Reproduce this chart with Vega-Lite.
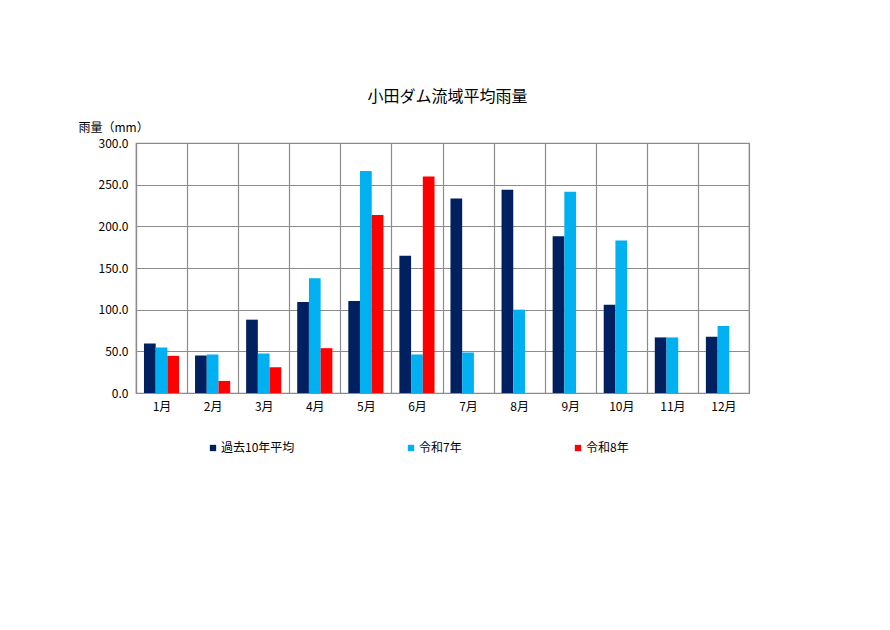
{
  "$schema": "https://vega.github.io/schema/vega-lite/v6.json",
  "width": 613,
  "height": 250,
  "autosize": "none",
  "padding": {"left": 136, "top": 143, "right": 141, "bottom": 237},
  "background": "white",
  "title": {
    "text": "小田ダム流域平均雨量",
    "fontSize": 16,
    "fontWeight": "normal",
    "font": "Noto Sans CJK JP",
    "color": "black",
    "anchor": "middle",
    "frame": "group",
    "offset": 16,
    "dx": 5
  },
  "config": {
    "view": {"stroke": "#8c8c8c", "strokeWidth": 1.2},
    "font": "Noto Sans CJK JP"
  },
  "data": {
    "values": [
      {"month": "1月", "series": "過去10年平均", "value": 59.4},
      {"month": "1月", "series": "令和7年", "value": 54.6},
      {"month": "1月", "series": "令和8年", "value": 44.6},
      {"month": "2月", "series": "過去10年平均", "value": 45.0},
      {"month": "2月", "series": "令和7年", "value": 46.2},
      {"month": "2月", "series": "令和8年", "value": 14.5},
      {"month": "3月", "series": "過去10年平均", "value": 88.0},
      {"month": "3月", "series": "令和7年", "value": 47.4},
      {"month": "3月", "series": "令和8年", "value": 30.9},
      {"month": "4月", "series": "過去10年平均", "value": 109.2},
      {"month": "4月", "series": "令和7年", "value": 137.8},
      {"month": "4月", "series": "令和8年", "value": 53.8},
      {"month": "5月", "series": "過去10年平均", "value": 110.4},
      {"month": "5月", "series": "令和7年", "value": 266.3},
      {"month": "5月", "series": "令和8年", "value": 213.7},
      {"month": "6月", "series": "過去10年平均", "value": 164.7},
      {"month": "6月", "series": "令和7年", "value": 46.2},
      {"month": "6月", "series": "令和8年", "value": 259.8},
      {"month": "7月", "series": "過去10年平均", "value": 233.3},
      {"month": "7月", "series": "令和7年", "value": 48.6},
      {"month": "8月", "series": "過去10年平均", "value": 243.8},
      {"month": "8月", "series": "令和7年", "value": 100.0},
      {"month": "9月", "series": "過去10年平均", "value": 188.0},
      {"month": "9月", "series": "令和7年", "value": 241.4},
      {"month": "10月", "series": "過去10年平均", "value": 106.0},
      {"month": "10月", "series": "令和7年", "value": 183.1},
      {"month": "11月", "series": "過去10年平均", "value": 66.7},
      {"month": "11月", "series": "令和7年", "value": 66.7},
      {"month": "12月", "series": "過去10年平均", "value": 67.5},
      {"month": "12月", "series": "令和7年", "value": 80.3}
    ]
  },
  "mark": {"type": "bar"},
  "encoding": {
    "x": {
      "field": "month",
      "type": "nominal",
      "sort": null,
      "scale": {"paddingInner": 0, "paddingOuter": 0},
      "axis": {
        "title": null,
        "labelAngle": 0,
        "labelFontSize": 12,
        "labelColor": "black",
        "labelPadding": 8,
        "ticks": false,
        "tickBand": "extent",
        "grid": true,
        "gridColor": "#8c8c8c",
        "gridWidth": 1.2,
        "domainColor": "#8c8c8c",
        "domainWidth": 1.2
      }
    },
    "xOffset": {
      "field": "series",
      "type": "nominal",
      "sort": ["過去10年平均", "令和7年", "令和8年"],
      "scale": {"paddingInner": 0, "paddingOuter": 0.68}
    },
    "y": {
      "field": "value",
      "type": "quantitative",
      "scale": {"domain": [0, 300], "nice": false},
      "axis": {
        "title": "雨量（mm）",
        "titleAngle": 0,
        "titleAlign": "left",
        "titleBaseline": "middle",
        "titleX": -58,
        "titleY": -16,
        "titleFontSize": 12,
        "titleFontWeight": "normal",
        "titleColor": "black",
        "values": [0, 50, 100, 150, 200, 250, 300],
        "format": ".1f",
        "labelFontSize": 12,
        "labelColor": "black",
        "labelPadding": 8,
        "ticks": false,
        "grid": true,
        "gridColor": "#8c8c8c",
        "gridWidth": 1.2,
        "domainColor": "#8c8c8c",
        "domainWidth": 1.2
      }
    },
    "color": {
      "field": "series",
      "type": "nominal",
      "scale": {
        "domain": ["過去10年平均", "令和7年", "令和8年"],
        "range": ["#002060", "#00b0f0", "#ff0000"]
      },
      "legend": {
        "title": null,
        "orient": "none",
        "direction": "horizontal",
        "legendX": 71,
        "legendY": 299,
        "symbolType": "square",
        "symbolSize": 40,
        "symbolStrokeWidth": 0,
        "labelFontSize": 12,
        "labelColor": "black",
        "labelOffset": 2,
        "columnPadding": 110
      }
    }
  }
}
